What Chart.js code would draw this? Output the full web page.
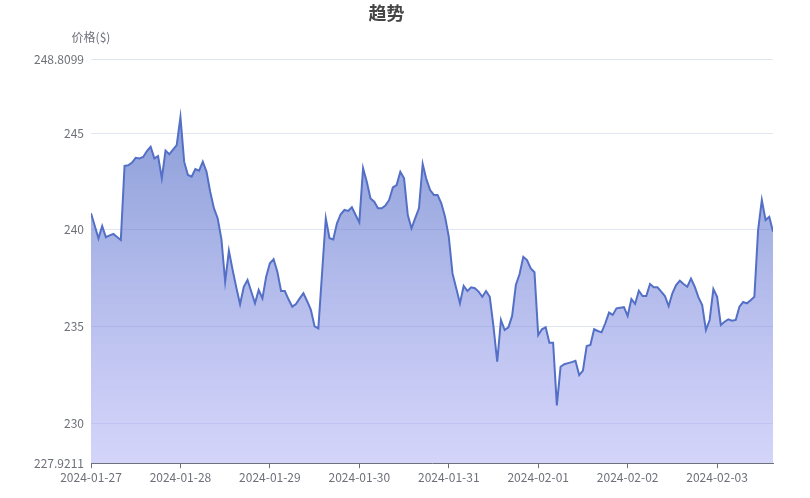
<!DOCTYPE html>
<html>
<head>
<meta charset="utf-8">
<script src="https://cdn.jsdelivr.net/npm/chart.js@4.4.1/dist/chart.umd.min.js"></script>
<style>
html,body{margin:0;padding:0;background:#fff;}
#wrap{width:810px;height:498px;}
</style>
</head>
<body>
<div id="wrap"><canvas id="c" width="810" height="498"></canvas></div>
<script>
// ---- data ----
const chartTitle = '趋势';
const yAxisName = '价格($)';
const dayLabels = ['2024-01-27','2024-01-28','2024-01-29','2024-01-30','2024-01-31','2024-02-01','2024-02-02','2024-02-03'];
const hoursPerDay = 24;
// hourly prices starting 2024-01-27 00:00
const prices = [
240.85,240.20,239.55,240.19,239.61,239.71,239.78,239.62,239.47,243.30,
243.33,243.47,243.72,243.69,243.76,244.07,244.29,243.69,243.81,242.66,
244.09,243.90,244.14,244.38,245.83,243.52,242.83,242.74,243.14,243.05,
243.52,243.00,241.95,241.10,240.58,239.50,237.31,238.91,237.92,237.00,
236.14,237.05,237.40,236.80,236.19,236.88,236.45,237.57,238.26,238.47,
237.83,236.83,236.83,236.40,236.02,236.16,236.45,236.71,236.30,235.85,
235.00,234.90,237.75,240.59,239.56,239.50,240.33,240.80,241.02,240.97,
241.16,240.76,240.38,243.18,242.48,241.62,241.45,241.11,241.11,241.25,
241.54,242.19,242.31,243.00,242.66,240.76,240.07,240.60,241.11,243.40,
242.60,242.05,241.80,241.80,241.37,240.67,239.64,237.74,236.97,236.19,
237.09,236.83,237.02,236.97,236.80,236.53,236.83,236.53,234.98,233.17,
235.33,234.81,234.95,235.54,237.14,237.71,238.60,238.43,238.00,237.80,
234.55,234.85,234.95,234.15,234.15,230.91,232.91,233.04,233.10,233.15,
233.22,232.48,232.71,233.98,234.04,234.85,234.76,234.69,235.16,235.71,
235.59,235.93,235.96,235.99,235.54,236.41,236.16,236.84,236.57,236.57,
237.19,237.02,237.02,236.80,236.57,236.05,236.71,237.14,237.36,237.19,
237.05,237.47,237.05,236.50,236.10,234.81,235.33,236.93,236.53,235.07,
235.24,235.36,235.29,235.33,236.02,236.26,236.19,236.35,236.53,239.98,
241.54,240.50,240.67,239.90
];
const yTickValues = [227.9211, 230, 235, 240, 245, 248.8099];
const yTickLabels = ['227.9211', '230', '235', '240', '245', '248.8099'];
const yMin = 227.9211;
const yMax = 248.8099;

// ---- chart ----
const FONT = "'Noto Sans CJK SC', 'Noto Sans', sans-serif";
const points = prices.map((v, i) => ({ x: i, y: v }));

const axisNamePlugin = {
  id: 'axisName',
  afterDraw(chart) {
    const { ctx, chartArea } = chart;
    ctx.save();
    ctx.font = '12px ' + FONT;
    ctx.fillStyle = '#6e7079';
    ctx.textAlign = 'center';
    ctx.textBaseline = 'middle';
    ctx.fillText(yAxisName, chartArea.left, 37);
    ctx.restore();
  }
};

new Chart(document.getElementById('c'), {
  type: 'line',
  data: {
    datasets: [{
      data: points,
      borderColor: '#5470c6',
      borderWidth: 2,
      pointRadius: 0,
      pointHoverRadius: 0,
      tension: 0,
      fill: 'start',
      backgroundColor: (context) => {
        const chart = context.chart;
        const { chartArea, scales } = chart;
        if (!chartArea || !scales.y) return 'rgba(84,112,198,0.5)';
        const topY = scales.y.getPixelForValue(Math.max(...prices));
        const g = chart.ctx.createLinearGradient(0, topY, 0, chartArea.bottom);
        g.addColorStop(0, 'rgba(84,112,198,0.68)');
        g.addColorStop(1, 'rgba(170,170,245,0.5)');
        return g;
      }
    }]
  },
  options: {
    responsive: false,
    animation: false,
    devicePixelRatio: 1,
    layout: { padding: { left: 0, right: 37, top: 0, bottom: 0 } },
    plugins: {
      legend: { display: false },
      tooltip: { enabled: false },
      title: {
        display: true,
        text: chartTitle,
        color: '#464646',
        font: { family: FONT, size: 18, weight: 'bold', lineHeight: 1.2 },
        padding: { top: 2, bottom: 35.8 }
      }
    },
    scales: {
      x: {
        type: 'linear',
        min: 0,
        max: prices.length - 1,
        afterBuildTicks: (axis) => {
          axis.ticks = dayLabels.map((_, i) => ({ value: i * hoursPerDay }));
        },
        afterFit: (axis) => { axis.height = 34.8; },
        ticks: {
          autoSkip: false,
          maxRotation: 0,
          padding: 2,
          color: '#6e7079',
          font: { family: FONT, size: 12 },
          callback: (val) => dayLabels[Math.round(val / hoursPerDay)]
        },
        grid: {
          display: true,
          drawOnChartArea: false,
          drawTicks: true,
          tickLength: 5,
          color: '#6e7079'
        },
        border: { display: true, color: '#6e7079', width: 1 }
      },
      y: {
        min: yMin,
        max: yMax,
        afterBuildTicks: (axis) => {
          axis.ticks = yTickValues.map(v => ({ value: v }));
        },
        afterFit: (axis) => { axis.width = 91; },
        ticks: {
          padding: 7,
          color: '#6e7079',
          font: { family: FONT, size: 12 },
          callback: (val, idx) => yTickLabels[idx]
        },
        grid: {
          color: '#e0e6f1',
          drawTicks: false
        },
        border: { display: false }
      }
    }
  },
  plugins: [axisNamePlugin]
});
</script>
</body>
</html>
